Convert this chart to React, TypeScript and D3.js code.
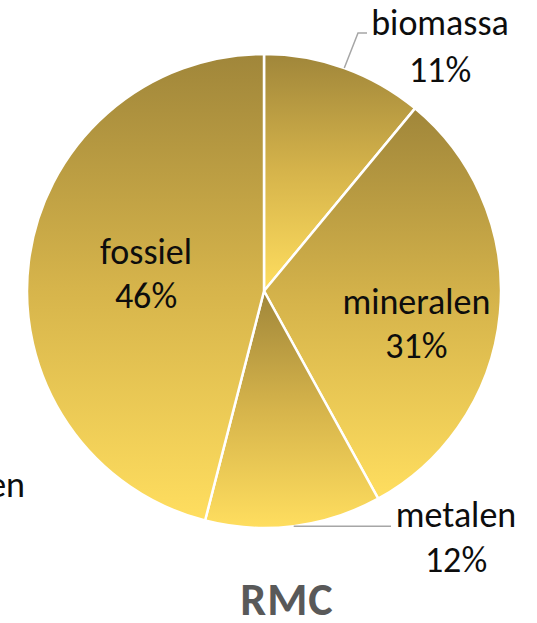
import React from "react";
import * as d3 from "d3";

const categories = ["biomassa", "mineralen", "metalen", "fossiel"];
const shares = [11, 31, 12, 46];
const title = "RMC";
const strayLabel = "en";

const W = 537;
const H = 623;
const CX = 264;
const CY = 291;
const R = 237;
const FONT = "Carlito, Calibri, Lato, sans-serif";
const FS = 36;
const LINE = 44;

type LabelLayout =
  | { kind: "inside"; rf: number; dAngle: number }
  | { kind: "outside"; tx: number; ty: number; gap: number; elbow?: [number, number]; endX?: number };

const layouts: Record<string, LabelLayout> = {
  biomassa: { kind: "outside", tx: 440, ty: 35, gap: 47, elbow: [358, 33] },
  mineralen: { kind: "inside", rf: 0.658, dAngle: 0.119 },
  metalen: { kind: "outside", tx: 456, ty: 527, gap: 45, endX: 391 },
  fossiel: { kind: "inside", rf: 0.503, dAngle: 0.017 },
};

export default function App() {
  const data = categories.map((c, i) => ({ name: c, value: shares[i] }));
  const pie = d3.pie<{ name: string; value: number }>().sort(null).value((d) => d.value);
  const arcs = pie(data);
  const arcGen = d3.arc<d3.PieArcDatum<{ name: string; value: number }>>().innerRadius(0).outerRadius(R);

  return (
    <svg
      width={W}
      height={H}
      style={{ position: "absolute", left: 0, top: 0 }}
      fontFamily={FONT}
    >
      <defs>
        <linearGradient id="gold" x1="0" y1="0" x2="0" y2="1">
          <stop offset="0%" stopColor="#A0863A" />
          <stop offset="50%" stopColor="#D6B44B" />
          <stop offset="100%" stopColor="#FFDE5F" />
        </linearGradient>
      </defs>
      <g transform={`translate(${CX},${CY})`}>
        {arcs.map((a) => (
          <path key={a.data.name} d={arcGen(a) || ""} fill="url(#gold)" stroke="#ffffff" strokeWidth={2.5} strokeLinejoin="round" />
        ))}
      </g>
      {arcs.map((a) => {
        const lay = layouts[a.data.name];
        const mid = (a.startAngle + a.endAngle) / 2;
        if (lay.kind === "inside") {
          const ang = mid + lay.dAngle;
          const x = CX + Math.sin(ang) * R * lay.rf;
          const y = CY - Math.cos(ang) * R * lay.rf;
          return (
            <text key={a.data.name} textAnchor="middle" fontSize={FS} fill="#0d0d0d">
              <tspan x={x} y={y - 10}>{a.data.name}</tspan>
              <tspan x={x} y={y - 10 + LINE}>{a.data.value}%</tspan>
            </text>
          );
        }
        const ex = CX + Math.sin(mid) * R;
        const ey = CY - Math.cos(mid) * R;
        const pts: [number, number][] = lay.elbow
          ? [[ex, ey], lay.elbow, [lay.elbow[0] + 9, lay.elbow[1]]]
          : [[ex, ey], [lay.endX || ex, ey]];
        return (
          <g key={a.data.name}>
            <path d={d3.line()(pts) || ""} fill="none" stroke="#A6A6A6" strokeWidth={1.5} />
            <text textAnchor="middle" fontSize={FS} fill="#0d0d0d">
              <tspan x={lay.tx} y={lay.ty}>{a.data.name}</tspan>
              <tspan x={lay.tx} y={lay.ty + lay.gap}>{a.data.value}%</tspan>
            </text>
          </g>
        );
      })}
      <text x={25} y={497} textAnchor="end" fontSize={FS} fill="#0d0d0d">{strayLabel}</text>
      <text x={287} y={615} textAnchor="middle" fontSize={46} fontWeight="bold" letterSpacing={1} fill="#595959">{title}</text>
    </svg>
  );
}
